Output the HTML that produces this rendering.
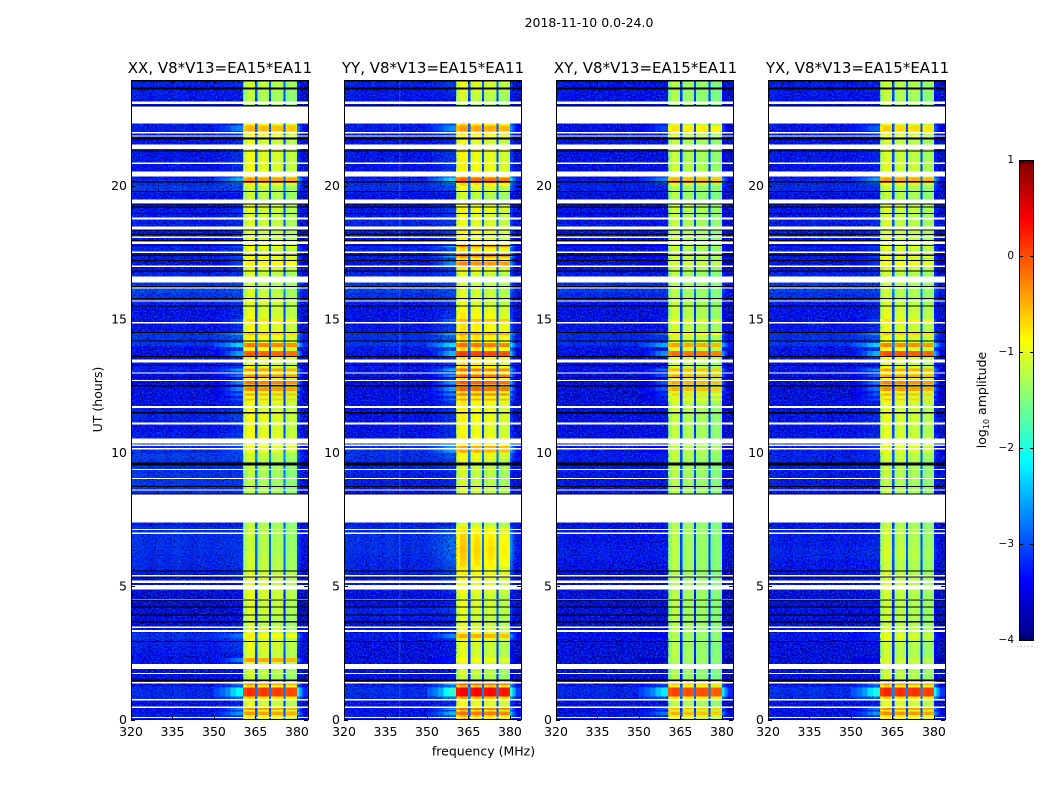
<!DOCTYPE html>
<html lang="en">
<head>
<meta charset="utf-8">
<title>2018-11-10 amplitude waterfall</title>
<style>
html,body{margin:0;padding:0;background:#fff;}
svg{display:block;}
text{font-family:"DejaVu Sans","Liberation Sans",sans-serif;fill:#000;}
</style>
</head>
<body>
<svg id="chart" xmlns="http://www.w3.org/2000/svg" width="1050" height="800" viewBox="0 0 1050 800">
  <defs>
    <filter id="speckle" x="0" y="0" width="100%" height="100%" color-interpolation-filters="sRGB">
      <feTurbulence type="fractalNoise" baseFrequency="0.62" numOctaves="1" seed="4" result="n"/>
      <feColorMatrix in="n" type="matrix" values="0 0 0 0 0  0 0 0 0 0  0 0 0 0 0.35  3.4 0 0 0 -1.55" result="dark"/>
      <feColorMatrix in="n" type="matrix" values="0 0 0 0 0  0 0 0 0 0.3  0 0 0 0 1  0 3.2 0 0 -1.4" result="light"/>
      <feMerge><feMergeNode in="dark"/><feMergeNode in="light"/></feMerge>
    </filter>
  </defs>
  <rect width="1050" height="800" fill="#fff"/>
  <text x="589" y="27" text-anchor="middle" font-size="12.5">2018-11-10 0.0-24.0</text>
  <text x="220" y="73" text-anchor="middle" font-size="15">XX, V8*V13=EA15*EA11</text>
  <text x="433" y="73" text-anchor="middle" font-size="15">YY, V8*V13=EA15*EA11</text>
  <text x="645.5" y="73" text-anchor="middle" font-size="15">XY, V8*V13=EA15*EA11</text>
  <text x="857.5" y="73" text-anchor="middle" font-size="15">YX, V8*V13=EA15*EA11</text>
  <text transform="translate(102 399.5) rotate(-90)" text-anchor="middle" font-size="12.5">UT (hours)</text>
  <text x="483.5" y="755.5" text-anchor="middle" font-size="12.5">frequency (MHz)</text>
  <text transform="translate(986 400) rotate(-90)" text-anchor="middle" font-size="12.5">log<tspan font-size="8" dy="3">10</tspan><tspan dy="-3"> amplitude</tspan></text>
  <g id="plots"></g>
  <g id="cbar"></g>
</svg>
<script>
// Axis tick values
const freqTicks = [320, 335, 350, 365, 380];
const hourTicks = [0, 5, 10, 15, 20];
const cbarTicks = [1, 0, -1, -2, -3, -4];

// Spectral channels (MHz edges), in-band weight, log offset and band-edge leakage
const channelEdges = [320,323,326,329,332,335,338,341,344,347,350,352,354,356,358,360.5,362,364,364.9,365.7,367,369,369.9,370.7,372,374,375.1,375.9,377,379,380,381,382,384];
const channelGain = [0,0,0,0,0,0,0,0,0,0,0,0,0,0,0,1,1,1,0,1,1,1,0,1,1,1,0,1,1,1,0,0,0];
const channelOffset = [-0.24,-0.28,-0.34,-0.27,-0.32,-0.25,-0.3,-0.35,-0.28,-0.33,-0.34,-0.3,-0.32,-0.3,-0.3,-0.2,0.05,-0.05,0,-0.2,-0.05,-0.15,0,-0.2,-0.1,-0.2,0,-0.35,-0.2,-0.3,-0.3,-0.5,-0.6];
const channelLeak = [0,0,0,0,0,0,0,0,0,0,0.16,0.24,0.4,0.64,0.8,0,0,0,0.1,0,0,0,0.1,0,0,0,0.1,0,0,0,0.8,0.56,0.24];

// Flagged time ranges (hours): white = no data, dark = black lines
const flaggedHours = [[0.06,0.10],[0.43,0.49],[0.71,0.77],[1.35,1.41],[1.71,1.75],[1.89,2.08],[3.28,3.35],[3.43,3.49],[4.48,4.52],[4.86,5.04],[5.12,5.2],[5.35,5.42],[6.95,7],[7.09,7.14],[7.37,8.42],[8.57,8.62],[9,9.05],[9.34,9.39],[10.12,10.17],[10.24,10.3],[10.33,10.52],[11.04,11.12],[11.66,11.75],[12.67,12.71],[12.96,13],[13.37,13.48],[14.83,14.89],[15.65,15.69],[16.14,16.18],[16.37,16.6],[16.95,17],[17.47,17.53],[17.8,17.9],[18.03,18.09],[18.36,18.47],[18.73,18.8],[19.33,19.48],[20.34,20.53],[20.81,20.87],[21.36,21.54],[21.84,21.88],[21.94,22],[22.33,22.95],[23.06,23.15]];
const darkHours = [[1.44,1.5],[2.9,2.94],[3.64,3.68],[3.9,3.94],[4.2,4.24],[4.46,4.5],[5.32,5.36],[5.55,5.59],[8.43,8.47],[8.71,8.75],[9.51,9.62],[11.47,11.51],[12.48,12.52],[12.79,12.83],[13.24,13.28],[13.57,13.61],[14.15,14.19],[14.47,14.51],[15.46,15.5],[15.75,15.79],[16.19,16.23],[16.78,16.82],[17.17,17.21],[17.36,17.42],[17.74,17.78],[17.92,17.96],[18.15,18.19],[18.31,18.35],[18.93,18.97],[19.17,19.21],[19.29,19.33],[19.75,19.79],[20.12,20.16],[21.28,21.32],[21.72,21.8],[22.95,23.01],[23.6,23.67],[23.9,23.95]];

// Short bright bursts inside the band: time range and log10 level per polarisation
const burstHours = [[0.17,0.30],[0.35,0.45],[0.86,1.2],[1.3,1.42],[2.15,2.3],[3.05,3.2],[10.0,10.25],[11.95,12.03],[12.12,12.22],[12.3,12.45],[12.55,12.7],[12.82,12.92],[13.05,13.15],[13.6,13.8],[13.95,14.1],[14.4,14.5],[14.9,15.0],[17.0,17.15],[17.3,17.45],[17.7,17.78],[20.1,20.3],[22.05,22.25]];
const xxBurst = [-0.35,-0.35,0.15,-0.35,-0.4,-0.8,-0.95,-0.55,-0.5,-0.3,-0.2,-0.3,-0.35,-0.05,-0.2,-0.6,-0.7,-0.8,-0.85,-0.8,-0.35,-0.5];
const yyBurst = [-0.15,-0.2,0.4,-0.1,-0.9,-0.45,-0.45,-0.4,-0.3,-0.1,-0.05,-0.1,-0.15,0.1,-0.15,-0.4,-0.5,-0.3,-0.3,-0.15,-0.1,-0.4];
const xyBurst = [-0.5,-0.55,0.05,-0.6,-1.3,-1.3,-1.2,-0.8,-0.7,-0.5,-0.45,-0.45,-0.5,-0.15,-0.4,-0.8,-0.9,-1.1,-1.1,-1.1,-0.5,-0.75];
const yxBurst = [-0.3,-0.35,0.2,-0.35,-1.1,-1.0,-1.0,-0.6,-0.55,-0.35,-0.25,-0.4,-0.4,0.0,-0.25,-0.6,-0.75,-0.9,-0.9,-0.9,-0.4,-0.65];

// Amplitude (log10) per quarter hour, in band and out of band, for each polarisation
const xxInBand = [
-0.85,-0.85,-1.0,-0.7,-0.7,-0.8,-1.15,-1.1,-1.0,-1.05,-1.0,-0.95,
-1.0,-1.05,-1.1,-1.1,-1.05,-1.05,-1.0,-1.0,-1.05,-1.0,-1.1,-1.1,
-1.1,-1.15,-1.15,-1.15,-1.15,-1.2,-1.2,-1.2,-1.2,-1.2,-1.2,-1.2,
-1.2,-1.2,-1.15,-1.1,-1.05,-0.95,-0.9,-0.95,-0.95,-0.9,-0.95,-0.95,
-0.95,-0.95,-0.9,-0.9,-0.95,-0.95,-0.85,-0.85,-0.85,-0.85,-0.9,-0.9,
-0.95,-1.0,-1.0,-1.05,-1.1,-1.1,-1.1,-0.95,-0.95,-0.95,-1.0,-1.0,
-1.05,-1.05,-1.05,-1.05,-1.0,-1.05,-1.15,-1.1,-0.85,-0.85,-0.95,-0.95,
-0.95,-0.9,-1,-0.9,-0.75,-0.85,-1,-1.2,-1.2,-1.2,-1.15,-1.1];
const xxOutBand = [
-3.0,-3.1,-3.1,-2.9,-2.9,-3.1,-3.2,-3.2,-3.1,-3.1,-3.0,-2.95,
-2.85,-3.05,-3.15,-3.25,-3.3,-3.3,-3.35,-3.2,-3.15,-3.1,-2.95,-2.9,
-2.9,-2.85,-2.85,-2.85,-2.85,-3,-3,-3,-2.95,-2.9,-2.85,-2.8,
-2.8,-2.85,-2.8,-2.75,-2.9,-3.0,-3.0,-3.1,-3.0,-2.95,-3.0,-3.15,
-3.15,-3.15,-3.2,-3.2,-3.0,-3.1,-3.2,-3.1,-2.8,-2.8,-3.1,-3.1,
-3.1,-3.1,-2.95,-2.8,-2.65,-2.8,-2.95,-3.1,-3.1,-3.0,-2.95,-3.05,
-3.1,-3.1,-3.0,-3.0,-3.05,-3.1,-3.1,-2.75,-2.85,-3.05,-3.1,-3.05,
-3.05,-3.0,-3.1,-3.05,-3.0,-3.0,-3.2,-3.2,-3.2,-3.0,-3.0,-2.95];
const yyInBand = [
-0.6,-0.65,-0.9,-0.5,-0.5,-0.6,-1.15,-1.1,-1.0,-1.0,-1.05,-1.0,
-0.85,-0.95,-1.05,-1.05,-1.0,-1.0,-1.05,-0.9,-0.95,-0.85,-0.85,-0.7,
-0.65,-0.6,-0.65,-0.7,-0.8,-1.1,-1.1,-1.1,-1.1,-1.1,-1.05,-1.1,
-1.1,-1.1,-1.0,-0.9,-0.7,-0.8,-0.85,-0.9,-0.85,-0.85,-0.85,-0.8,
-0.8,-0.75,-0.75,-0.75,-0.75,-0.75,-0.75,-0.7,-0.7,-0.7,-0.75,-0.75,
-0.8,-0.9,-1,-1.0,-1.05,-1.05,-1.05,-0.85,-0.85,-0.75,-0.75,-0.8,
-0.95,-0.85,-0.95,-0.95,-0.85,-1.0,-1.15,-0.95,-0.7,-0.7,-0.85,-0.85,
-0.9,-0.75,-0.95,-0.8,-0.6,-0.7,-1.0,-1.15,-1.15,-1.1,-1.0,-0.95];
const yyOutBand = [
-3.0,-3.1,-3.1,-2.9,-2.85,-3.05,-3.2,-3.2,-3.2,-3.2,-3.15,-3.15,
-3.0,-3.1,-3.2,-3.0,-2.95,-3.15,-3.2,-3.1,-3.05,-3.0,-2.95,-2.95,
-2.9,-2.85,-2.85,-2.85,-2.9,-3,-3,-3,-3.05,-3.05,-3.05,-3.0,
-3.0,-2.95,-2.9,-2.85,-2.85,-2.95,-3.1,-3.1,-3.1,-3.1,-3.1,-3.15,
-3.15,-3.15,-3.2,-3.2,-3.05,-3.1,-3.2,-3.0,-2.8,-2.85,-3.05,-3.1,
-3.1,-3.1,-3.0,-2.85,-2.7,-2.8,-2.95,-3.05,-3.1,-3.0,-2.95,-3.05,
-3.05,-3.0,-2.95,-3.0,-3.05,-3.1,-3.1,-2.85,-2.85,-3.05,-3.1,-3.05,
-3.05,-3.0,-3.1,-3.05,-3.0,-3.0,-3.2,-3.2,-3.2,-3.05,-3.0,-2.95];
const xyInBand = [
-1.0,-1.0,-1.2,-0.8,-0.8,-1.0,-1.3,-1.3,-1.3,-1.25,-1.25,-1.25,
-1.25,-1.25,-1.25,-1.25,-1.25,-1.25,-1.25,-1.25,-1.25,-1.3,-1.25,-1.25,
-1.25,-1.25,-1.25,-1.25,-1.25,-1.3,-1.3,-1.3,-1.3,-1.3,-1.25,-1.25,
-1.25,-1.25,-1.25,-1.2,-1.15,-1.2,-1.2,-1.2,-1.2,-1.2,-1.15,-1.15,
-1.15,-1.1,-1.1,-1.1,-1.1,-1.1,-1.05,-1.05,-1.05,-1.1,-1.1,-1.15,
-1.15,-1.15,-1.2,-1.25,-1.25,-1.25,-1.25,-1.2,-1.2,-1.2,-1.2,-1.2,
-1.2,-1.2,-1.2,-1.2,-1.15,-1.2,-1.3,-1.25,-1.05,-1.05,-1.15,-1.2,
-1.2,-1.15,-1.2,-1.1,-1.0,-1.05,-1.2,-1.3,-1.3,-1.3,-1.3,-1.25];
const xyOutBand = [
-3.05,-3.2,-3.2,-2.95,-2.9,-3.1,-3.3,-3.3,-3.3,-3.25,-3.2,-3.2,
-3.1,-3.2,-3.3,-3.25,-3.2,-3.3,-3.3,-3.2,-3.2,-3.15,-3.1,-3.1,
-3.0,-3.0,-3.05,-3.05,-3.05,-3.1,-3.1,-3.1,-3.15,-3.1,-3.05,-3.05,
-3.05,-3.0,-3.0,-3.0,-3.05,-3.1,-3.1,-3.15,-3.1,-3.1,-3.15,-3.2,
-3.25,-3.2,-3.25,-3.25,-3.1,-3.2,-3.2,-3.1,-2.85,-2.9,-3.1,-3.15,
-3.15,-3.15,-3.05,-2.9,-2.75,-2.85,-3.0,-3.15,-3.15,-3.1,-3.05,-3.1,
-3.1,-3.1,-3.05,-3.1,-3.1,-3.15,-3.2,-2.95,-2.95,-3.1,-3.2,-3.1,
-3.1,-3.05,-3.15,-3.1,-3.1,-3.1,-3.2,-3.2,-3.2,-3.1,-3.05,-3.05];
const yxInBand = [
-0.8,-0.85,-1.0,-0.7,-0.7,-0.8,-1.15,-1.15,-1.05,-1.15,-1.15,-1.1,
-1.0,-1.1,-1.15,-1.15,-1.15,-1.15,-1.15,-1.1,-1.1,-1.1,-1.15,-1.15,
-1.1,-1.1,-1.15,-1.15,-1.15,-1.2,-1.2,-1.2,-1.2,-1.2,-1.2,-1.2,
-1.15,-1.2,-1.15,-1.1,-1.0,-1.0,-1.0,-1.05,-1.0,-1.0,-1.0,-1.0,
-1.0,-0.95,-0.95,-0.95,-0.95,-1.0,-0.9,-0.9,-0.95,-0.95,-1.0,-1.0,
-1.0,-1.05,-1.1,-1.15,-1.15,-1.15,-1.15,-1.05,-1.05,-1.05,-1.05,-1.1,
-1.1,-1.05,-1.1,-1.1,-1.05,-1.1,-1.2,-1.15,-0.95,-0.95,-1.05,-1.05,
-1.1,-1.0,-1.1,-1.0,-0.9,-0.95,-1.1,-1.2,-1.2,-1.2,-1.15,-1.15];
const yxOutBand = [
-3.05,-3.15,-3.15,-2.9,-2.85,-3.1,-3.25,-3.25,-3.25,-3.2,-3.2,-3.15,
-3.05,-3.15,-3.25,-3.2,-3.15,-3.25,-3.25,-3.2,-3.15,-3.1,-3.05,-3.05,
-2.95,-2.95,-3.0,-3.0,-3.0,-3.1,-3.1,-3.1,-3.1,-3.1,-3.05,-3.0,
-3.0,-3.0,-2.95,-2.95,-3.0,-3.05,-3.05,-3.1,-3.05,-3.05,-3.1,-3.15,
-3.2,-3.2,-3.2,-3.2,-3.05,-3.15,-3.15,-3.05,-2.8,-2.85,-3.05,-3.1,
-3.1,-3.1,-3.0,-2.85,-2.7,-2.8,-2.95,-3.1,-3.1,-3.05,-3.0,-3.05,
-3.05,-3.05,-3.0,-3.05,-3.05,-3.1,-3.15,-2.9,-2.9,-3.05,-3.15,-3.05,
-3.05,-3.0,-3.1,-3.05,-3.05,-3.05,-3.15,-3.15,-3.15,-3.05,-3.0,-3.0];
const polarizations = ['xx', 'yy', 'xy', 'yx'];
const inBandByPanel = [xxInBand, yyInBand, xyInBand, yxInBand];
const outBandByPanel = [xxOutBand, yyOutBand, xyOutBand, yxOutBand];
const burstByPanel = [xxBurst, yyBurst, xyBurst, yxBurst];
const rfiLineMHz = [null, 340, null, null];

const NS = 'http://www.w3.org/2000/svg';
const panelLeft = [131, 344, 556, 768];
const panelWidth = 177;
const plotTop = 80, plotBottom = 720;
const hoursPerRow = 0.25;

function xScale(panel, mhz) { return panelLeft[panel] + (mhz - 320) * panelWidth / 64; }
function yScale(h) { return 719.5 - 26.7 * h; }
function cbY(v) { return 640 - 96 * (v + 4); }
function clip01(x) { return Math.max(0, Math.min(1, x)); }
function jet(v) {
  const t = clip01((v + 4) / 5);
  const ch = (a) => Math.round(255 * clip01(Math.min(4 * t - a, -4 * t + a + 3)));
  return 'rgb(' + ch(1.5) + ',' + ch(0.5) + ',' + ch(-0.5) + ')';
}
function make(tag, attrs, parent) {
  const el = document.createElementNS(NS, tag);
  for (const k in attrs) el.setAttribute(k, attrs[k]);
  parent.appendChild(el);
  return el;
}

const plots = document.getElementById('plots');
polarizations.forEach((pol, p) => {
  const g = make('g', {}, plots);
  
  
  const inBand = inBandByPanel[p], outBand = outBandByPanel[p], bursts = burstByPanel[p];
  const x0 = panelLeft[p], x1 = x0 + panelWidth;

  // Heatmap cells, one per quarter hour and channel
  for (let r = 0; r < inBand.length; r++) {
    const yA = Math.max(plotTop, yScale((r + 1) * hoursPerRow));
    const yB = yScale(r * hoursPerRow);
    for (let c = 0; c < channelGain.length; c++) {
      const xA = xScale(p, channelEdges[c]), xB = xScale(p, channelEdges[c + 1]);
      const level = outBand[r] + channelGain[c] * (inBand[r] - outBand[r]) + channelOffset[c] + channelLeak[c] * Math.max(0, inBand[r] + 1.2);
      const cell = make('rect', { x: xA.toFixed(2), y: yA.toFixed(2), width: (xB - xA + 0.4).toFixed(2), height: (yB - yA + 0.4).toFixed(2), fill: jet(level), 'shape-rendering': 'crispEdges' }, g);
      
      
    }
  }

  // Speckle texture over the out-of-band noise floor
  const tex = make('rect', { x: x0, y: plotTop, width: xScale(p, 360.5) - x0, height: plotBottom - plotTop, fill: '#000', filter: 'url(#speckle)' }, g);
  
  
  const tex2 = make('rect', { x: xScale(p, 381), y: plotTop, width: x1 - xScale(p, 381), height: plotBottom - plotTop, fill: '#000', filter: 'url(#speckle)' }, g);
  
  

  // Bursts drawn over the band and its shoulders
  burstHours.forEach((b, k) => {
    const lev = bursts[k];
    const r = Math.floor(((b[0] + b[1]) / 2) / hoursPerRow);
    for (let c = 0; c < channelGain.length; c++) {
      if (channelGain[c] === 0 && channelLeak[c] === 0) continue;
      const xA = xScale(p, channelEdges[c]), xB = xScale(p, channelEdges[c + 1]);
      const off = channelGain[c] ? channelOffset[c] * 0.5 : channelOffset[c];
      const level = outBand[r] + channelGain[c] * (lev - outBand[r]) + off + channelLeak[c] * Math.max(0, lev + 1.2);
      const cell = make('rect', { x: xA.toFixed(2), y: yScale(b[1]).toFixed(2), width: (xB - xA + 0.4).toFixed(2), height: (yScale(b[0]) - yScale(b[1])).toFixed(2), fill: jet(level), 'shape-rendering': 'crispEdges' }, g);
      
      
    }
  });

  if (rfiLineMHz[p] !== null) {
    const rfi = make('rect', { x: xScale(p, rfiLineMHz[p]), y: plotTop, width: 1, height: plotBottom - plotTop, fill: '#3fc4e8', opacity: 0.35 }, g);
    
    
  }

  // Flagged rows
  flaggedHours.forEach((f) => {
    const band = make('rect', { x: x0, y: yScale(f[1]).toFixed(2), width: panelWidth, height: (yScale(f[0]) - yScale(f[1])).toFixed(2), fill: '#fff', 'shape-rendering': 'crispEdges' }, g);
    
    
  });
  darkHours.forEach((f) => {
    const band = make('rect', { x: x0, y: yScale(f[1]).toFixed(2), width: panelWidth, height: (yScale(f[0]) - yScale(f[1])).toFixed(2), fill: '#000', 'shape-rendering': 'crispEdges' }, g);
    
    
  });

  // Frame
  const frame = make('rect', { x: x0 + 0.5, y: plotTop + 0.5, width: panelWidth, height: plotBottom - plotTop - 1, fill: 'none', stroke: '#000', 'stroke-width': 1 }, g);
  
  

  // X ticks
  freqTicks.forEach((t) => {
    const x = Math.round(xScale(p, t)) + 0.5;
    const bottomTick = make('line', { x1: x, x2: x, y1: plotBottom, y2: plotBottom - 4, stroke: '#000' }, g);
    
    
    const topTick = make('line', { x1: x, x2: x, y1: plotTop, y2: plotTop + 4, stroke: '#000' }, g);
    
    
    const lab = make('text', { x: xScale(p, t), y: 736, 'text-anchor': 'middle', 'font-size': 12.5 }, g);
    
    
    lab.textContent = String(t);
  });

  // Y ticks
  hourTicks.forEach((t) => {
    const y = Math.round(yScale(t)) + 0.5;
    const leftTick = make('line', { x1: x0, x2: x0 + 4, y1: y, y2: y, stroke: '#000' }, g);
    
    
    const rightTick = make('line', { x1: x1, x2: x1 - 4, y1: y, y2: y, stroke: '#000' }, g);
    
    
    const lab = make('text', { x: x0 - 4, y: yScale(t) + 4.5, 'text-anchor': 'end', 'font-size': 12.5 }, g);
    
    
    lab.textContent = String(t);
  });
});

// Colorbar
const cbar = document.getElementById('cbar');
const cbLeft = 1019, cbWidth = 15;
for (let v = -4; v < 1; v += 0.02) {
  const strip = make('rect', { x: cbLeft, y: cbY(v + 0.02).toFixed(2), width: cbWidth, height: 2.2, fill: jet(v + 0.01), 'shape-rendering': 'crispEdges' }, cbar);
  
  
}
const cbFrame = make('rect', { x: cbLeft + 0.5, y: 160.5, width: cbWidth - 1, height: 480, fill: 'none', stroke: '#000' }, cbar);


cbarTicks.forEach((v) => {
  const y = Math.round(cbY(v)) + 0.5;
  const tl = make('line', { x1: cbLeft, x2: cbLeft + 4, y1: y, y2: y, stroke: '#000' }, cbar);
  
  
  const tr = make('line', { x1: cbLeft + cbWidth, x2: cbLeft + cbWidth - 4, y1: y, y2: y, stroke: '#000' }, cbar);
  
  
  const lab = make('text', { x: 1014, y: cbY(v) + 3, 'text-anchor': 'end', 'font-size': 10.5 }, cbar);
  
  
  lab.textContent = v < 0 ? '\u2212' + Math.abs(v) : String(v);
});
[1, -4].forEach((v) => {
  const sign = v === 1 ? 1 : -1;
  for (let i = 1; i < 7; i++) {
    const x = cbLeft + i * cbWidth / 7;
    const m = make('line', { x1: x, x2: x, y1: cbY(v), y2: cbY(v) + sign * 4, stroke: '#000' }, cbar);
    
    
  }
});
const dots = make('line', { x1: 1017, x2: 1035, y1: 646.5, y2: 646.5, stroke: '#999', 'stroke-dasharray': '1 2.6' }, cbar);


</script>
</body>
</html>
